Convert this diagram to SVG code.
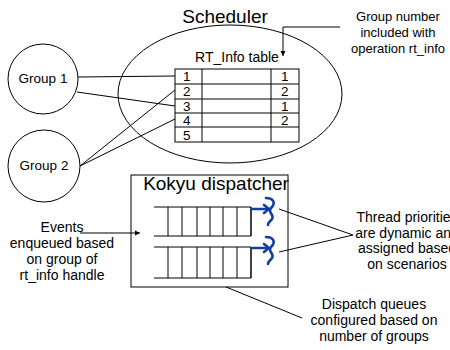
<svg xmlns="http://www.w3.org/2000/svg" width="450" height="350" viewBox="0 0 450 350">
<defs>
<marker id="ah" markerWidth="6" markerHeight="6" refX="5" refY="3" orient="auto" markerUnits="userSpaceOnUse">
<path d="M0,0.5 L5,3 L0,5.5 Z" fill="#000"/>
</marker>
<style>
text{font-family:"Liberation Sans",Arial,sans-serif;fill:#000}
.ln{stroke:#000;stroke-width:1;fill:none}
.sh{fill:#fff;stroke:#000;stroke-width:1}
.c{text-anchor:middle}
.blue{stroke:#123fa3;stroke-width:2.6;fill:none;stroke-linecap:round}
</style>
</defs>
<rect width="450" height="350" fill="#fff"/>

<g id="scheduler">
<ellipse cx="230" cy="94" rx="112" ry="69" class="ln"/>
<text x="225" y="23" class="c" font-size="19">Scheduler</text>
<text x="237" y="62" class="c" font-size="14">RT_Info table</text>
</g>

<g id="rt_info_table" font-size="13.5">
<rect x="175" y="69" width="124" height="73" class="ln"/>
<path class="ln" d="M175,84H299M175,99H299M175,113H299M175,127H299M202,69V142M271,69V142"/>
<text x="183" y="81">1</text><text x="281" y="81">1</text>
<text x="183" y="96">2</text><text x="281" y="96">2</text>
<text x="183" y="110.5">3</text><text x="281" y="110.5">1</text>
<text x="183" y="125">4</text><text x="281" y="125">2</text>
<text x="183" y="139.5">5</text>
</g>

<g id="group1">
<circle cx="43" cy="79" r="35" class="sh"/>
<text x="43" y="83" class="c" font-size="13.5">Group 1</text>
</g>

<g id="group2">
<circle cx="44" cy="166" r="36" class="sh"/>
<text x="44" y="170" class="c" font-size="13.5">Group 2</text>
</g>

<g id="kokyu_dispatcher">
<rect x="131" y="175" width="157" height="112" class="ln"/>
<text x="216" y="190" class="c" font-size="19">Kokyu dispatcher</text>
<path class="ln" d="M154,207H251V236H154M168,207V236M182,207V236M197,207V236M210,207V236M223,207V236M237,207V236M251,207V236"/>
<path class="ln" d="M154,247H251V278H154M168,247V278M182,247V278M197,247V278M210,247V278M223,247V278M237,247V278M251,247V278"/>
<g id="thread1">
<path class="blue" d="M252,209H268"/>
<path class="blue" d="M264,205L269,209L264,213"/>
<path class="blue" d="M266,198C272,198 277,202 271,208C267,212 275,215 272,219C270,222 268,222 268,225"/>
</g>
<g id="thread2">
<path class="blue" d="M252,248H268"/>
<path class="blue" d="M264,244L269,248L264,252"/>
<path class="blue" d="M266,237C272,237 277,241 271,247C267,251 275,254 272,258C270,261 268,261 268,264"/>
</g>
</g>

<g id="label_group_number" font-size="13">
<text x="398" y="21" class="c">Group number</text>
<text x="398" y="37" class="c">included with</text>
<text x="398" y="53" class="c">operation rt_info</text>
</g>

<g id="label_events" font-size="14">
<text x="62" y="232" class="c">Events</text>
<text x="62" y="248" class="c">enqueued based</text>
<text x="62" y="264" class="c">on group of</text>
<text x="62" y="280" class="c">rt_info handle</text>
</g>

<g id="label_thread" font-size="14">
<text x="407" y="222" class="c">Thread priorities</text>
<text x="407" y="238" class="c">are dynamic and</text>
<text x="407" y="253" class="c">assigned based</text>
<text x="407" y="269" class="c">on scenarios</text>
</g>

<g id="label_dispatch" font-size="14">
<text x="374" y="309" class="c">Dispatch queues</text>
<text x="374" y="325" class="c">configured based on</text>
<text x="374" y="341" class="c">number of groups</text>
</g>

<g id="connectors" class="ln">
<line x1="78" y1="77" x2="175" y2="76"/>
<line x1="77" y1="92" x2="175" y2="106"/>
<line x1="80" y1="166" x2="175" y2="90"/>
<line x1="80" y1="166" x2="175" y2="119"/>
<path d="M340,27H283V56" marker-end="url(#ah)"/>
<path d="M80,233H140" marker-end="url(#ah)"/>
<line x1="279" y1="209" x2="353" y2="235"/>
<line x1="279" y1="252" x2="353" y2="235"/>
<line x1="226" y1="287" x2="302" y2="318"/>
</g>
</svg>
